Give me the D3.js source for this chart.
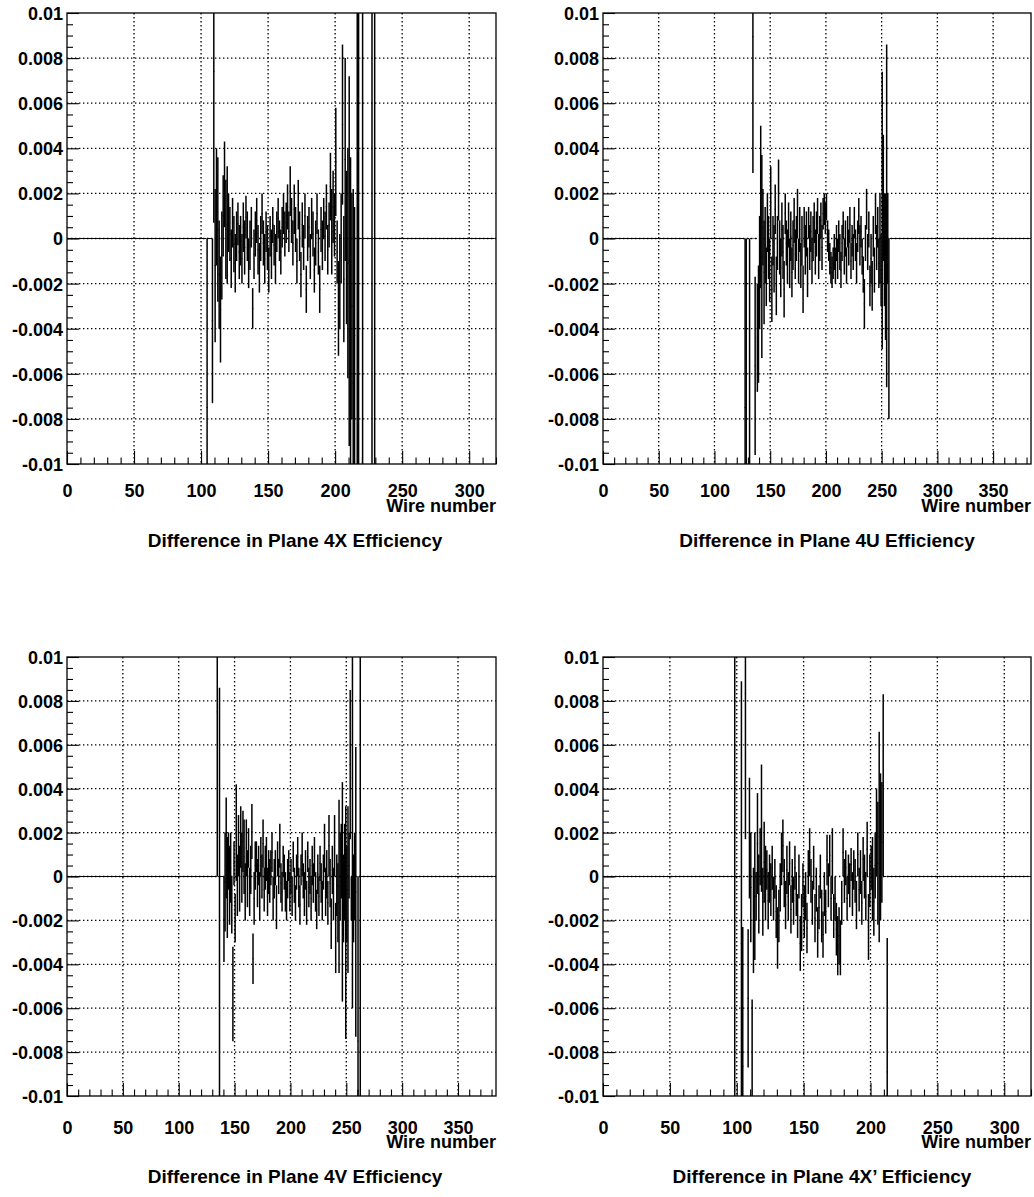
<!DOCTYPE html>
<html>
<head>
<meta charset="utf-8">
<script src="https://cdn.jsdelivr.net/npm/d3@7"></script>
<style>
  html, body { margin: 0; padding: 0; background: #fff; }
  svg { display: block; }
  text { font-family: "Liberation Sans", Arial, Helvetica, sans-serif; font-weight: bold; fill: #000; }
</style>
</head>
<body>
<svg id="chart" width="1034" height="1197"></svg>
<script>
// ---------------- DATA (error-bar extents per wire, in units of 1e-4) ----------------
const titles = [
  "Difference in Plane 4X Efficiency",
  "Difference in Plane 4U Efficiency",
  "Difference in Plane 4V Efficiency",
  "Difference in Plane 4X\u2019 Efficiency"
];
const xAxisTitle = "Wire number";
const wireCounts = [320, 384, 384, 320];
const firstWire = [104, 127, 134, 98];
const yTickLabels = ["-0.01","-0.008","-0.006","-0.004","-0.002","0","0.002","0.004","0.006","0.008","0.01"];

// Plane 4X : [low, high] of each wire's bar starting at wire 104
const bars4X = [
[-150,0],[0,0],[0,0],[0,0],[-73,0],[7,141],[-46,22],[-12,40],[-28,36],[-40,8],
[-55,-8],[-27,12],[-8,28],[5,43],[-18,26],[-20,32],[-6,20],[-10,14],[-22,4],[-4,18],
[-15,10],[-24,2],[-10,12],[-3,16],[-18,6],[-12,10],[-20,2],[-6,16],[-16,8],[0,19],
[-10,12],[-22,0],[-14,8],[-4,14],[-40,-22],[-18,4],[-8,12],[-2,18],[-16,6],[-24,-2],
[-10,10],[2,20],[-12,8],[-20,2],[-6,12],[-14,6],[-24,-4],[-8,10],[-18,4],[-2,14],
[-12,6],[-20,2],[-6,12],[0,18],[-10,8],[-16,4],[-4,14],[2,20],[-8,12],[-2,16],
[4,24],[-6,12],[10,32],[-2,18],[-12,8],[2,24],[-6,14],[-20,0],[4,26],[-10,12],
[-26,-6],[-4,16],[-14,6],[0,20],[-33,-12],[-10,10],[-4,14],[-18,2],[0,18],[-8,12],
[-24,-4],[-12,8],[2,20],[-16,4],[-33,-12],[-6,14],[-14,8],[0,18],[-10,12],[4,24],
[-16,6],[-4,16],[8,38],[-16,22],[-2,30],[-8,20],[10,58],[-20,8],[-52,-10],[-40,2],
[-20,20],[15,86],[-46,10],[-10,80],[-38,30],[-62,40],[-92,72],[-150,36],[-80,20],[-150,22],
[-100,14],[0,0],[-150,150],[-150,150],[0,0],[0,0],[-150,150],[0,0],[0,0],[0,0],
[0,0],[0,0],[0,0],[-150,150],[0,0],[-150,150]
];

// Plane 4U : starting at wire 127
const bars4U = [
[-150,0],[-150,0],[0,0],[0,0],[-150,0],[0,0],[0,0],[29,150],[0,0],[-96,-17],
[0,0],[-68,-20],[-64,-12],[-40,10],[-22,50],[-53,37],[-12,22],[-38,8],[-20,14],[-30,-4],
[-6,20],[-18,10],[-28,0],[0,32],[-37,-8],[-12,10],[-24,6],[2,24],[-34,-8],[-14,10],
[8,35],[-16,8],[-26,0],[-8,16],[-18,6],[-35,-10],[2,20],[-12,8],[-20,4],[-4,16],
[-22,0],[-10,12],[-26,-4],[-14,8],[-2,18],[-18,4],[-10,10],[0,22],[-20,0],[-6,14],
[-22,-2],[-12,10],[-33,-12],[-4,14],[-16,6],[-8,12],[-26,-4],[0,14],[-14,6],[-6,12],
[-20,0],[-10,10],[-2,16],[-16,4],[-8,12],[2,18],[-18,2],[-10,10],[0,16],[-14,6],
[4,18],[6,20],[2,16],[8,20],[-6,8],[-10,4],[-16,-2],[-20,-6],[-22,-8],[-18,-4],
[-14,2],[-20,-4],[-10,6],[-18,0],[-6,8],[-14,2],[-22,-6],[-10,6],[0,12],[-16,0],
[-8,8],[-20,-4],[-4,10],[-12,4],[-2,14],[-18,-2],[-8,6],[-14,2],[0,14],[-10,4],
[-20,-2],[-6,8],[2,18],[-12,6],[-4,10],[-16,0],[-24,-8],[-40,-18],[-10,6],[4,22],
[-14,2],[-4,12],[-30,-12],[-20,2],[-32,-10],[-8,10],[-24,-4],[2,20],[-14,6],[-4,14],
[-22,0],[-20,20],[-30,2],[-49,74],[-10,46],[-30,20],[-45,20],[-66,86],[-20,20],[-80,0]
];

// Plane 4V : starting at wire 134
const bars4V = [
[0,150],[0,0],[-150,86],[0,0],[0,0],[0,0],[-39,0],[-25,20],[-10,36],[-28,18],
[-6,20],[-22,14],[-12,20],[-26,0],[-75,-32],[-4,16],[-30,-8],[-2,42],[-18,10],[0,28],
[-16,14],[4,32],[-12,20],[2,30],[-8,26],[-20,6],[0,26],[-14,12],[4,22],[-18,4],
[-8,14],[8,33],[-49,-26],[-22,2],[-6,16],[2,16],[-14,8],[-4,14],[-20,2],[0,18],
[-10,10],[4,26],[-16,4],[-6,14],[-2,18],[-18,4],[-8,12],[-12,8],[-4,12],[2,20],
[-20,0],[-10,8],[-4,12],[-24,-4],[0,16],[-8,8],[4,24],[-12,6],[-16,2],[0,14],
[-6,10],[-16,2],[-20,-2],[-10,8],[-2,12],[-16,2],[-8,8],[-18,0],[2,16],[-12,4],
[-20,-4],[-6,10],[0,18],[-14,4],[-22,-4],[-4,10],[0,20],[-10,6],[-18,2],[-6,12],
[-22,-2],[2,16],[-14,4],[-8,8],[-20,0],[-4,14],[-12,6],[0,18],[-16,2],[-24,-6],
[-8,10],[-18,0],[-2,14],[-12,6],[-20,-2],[-6,10],[2,24],[-18,4],[-10,12],[-22,-2],
[0,28],[-14,8],[-33,-10],[-8,14],[-20,4],[0,28],[-44,-12],[-18,10],[-30,6],[-44,35],
[-20,20],[-10,24],[-57,43],[-30,10],[-20,24],[-74,32],[-30,14],[-44,32],[-10,20],[17,85],
[-20,0],[-60,150],[-30,10],[-20,20],[-73,59],[0,0],[-150,0],[0,0],[-150,150]
];

// Plane 4X' : starting at wire 98
const bars4Xp = [
[-150,150],[0,0],[0,0],[0,0],[0,0],[-150,89],[-150,-23],[0,0],[17,150],[0,0],
[-87,-24],[-10,45],[-30,20],[-150,-56],[-44,4],[-38,20],[-20,2],[-8,38],[-26,10],[-4,22],
[-7,51],[-27,4],[-12,25],[-20,14],[-6,12],[-24,2],[-12,10],[-18,6],[-6,14],[-20,0],
[-10,8],[-28,-4],[-42,-14],[-30,-6],[-16,6],[-4,20],[2,26],[-14,8],[-24,-2],[-8,14],
[-20,2],[-4,16],[-26,-4],[-12,8],[-22,0],[-6,14],[-18,2],[-28,-8],[-10,10],[-43,-18],
[-34,-8],[-14,6],[-28,-4],[-20,2],[-35,-12],[-8,12],[0,22],[-12,8],[-22,-2],[-6,14],
[-30,-8],[-16,4],[-37,-14],[-24,-4],[-10,10],[-30,-6],[-37,-16],[-18,2],[-26,-6],[-4,19],
[-14,6],[0,19],[-20,0],[-8,22],[-28,-8],[-20,0],[-36,-12],[-45,-18],[-40,-14],[-45,-20],
[-22,-2],[0,22],[-12,8],[-4,12],[-20,0],[-8,10],[-14,6],[-2,13],[-18,2],[-6,12],
[-12,8],[-24,-2],[0,20],[-16,4],[-8,12],[-22,-2],[-2,18],[-10,10],[-20,2],[0,25],
[-38,-8],[-14,10],[-6,14],[-20,18],[-27,4],[-10,20],[0,40],[-22,34],[-30,66],[-20,47],
[-12,43],[0,83],[0,0],[0,0],[-150,-28]
];

const seriesBars = [bars4X, bars4U, bars4V, bars4Xp];

// ---------------- LAYOUT ----------------
const layout = [
  { x0: 67,  x1: 496,  y0: 13,  y1: 464,  pad: 20, wy: 48, tx: 295, ty: 547 },
  { x0: 603, x1: 1031, y0: 13,  y1: 464,  pad: 20, wy: 48, tx: 827, ty: 547 },
  { x0: 67,  x1: 496,  y0: 657, y1: 1096, pad: 25, wy: 52, tx: 295, ty: 1183 },
  { x0: 603, x1: 1031, y0: 657, y1: 1096, pad: 25, wy: 52, tx: 822, ty: 1183 }
];
const FONT = 18;
const TITLE_FONT = 19;

const svg = d3.select("#chart");
svg.append("rect").attr("width", 1034).attr("height", 1197).attr("fill", "#fff");

seriesBars.forEach((bars, p) => {
  const L = layout[p];
  const n = wireCounts[p];
  const x = d3.scaleLinear().domain([0, n]).range([L.x0, L.x1]);
  const y = d3.scaleLinear().domain([-0.01, 0.01]).range([L.y1, L.y0]);
  const g = svg.append("g");

  const clipId = "clip" + p;
  g.append("clipPath").attr("id", clipId)
    .append("rect").attr("x", L.x0).attr("y", L.y0)
    .attr("width", L.x1 - L.x0).attr("height", L.y1 - L.y0);

  // grid
  const xMajor = d3.range(0, n + 1, 50);
  const xMinor = d3.range(0, n + 1, 10).filter(v => v % 50 !== 0);
  const yMajor = yTickLabels.map(Number);
  const yMinor = d3.range(-100, 101, 5).filter(v => v % 20 !== 0).map(v => v * 1e-4);

  const grid = g.append("g").attr("stroke", "#000").attr("stroke-width", 1.3)
    .attr("stroke-dasharray", "1.4,2.6").attr("fill", "none");
  xMajor.filter(v => v > 0 && v < n).forEach(v => {
    grid.append("line").attr("x1", x(v)).attr("x2", x(v)).attr("y1", L.y0).attr("y2", L.y1);
  });
  yMajor.filter(v => Math.abs(v) < 0.0099).forEach(v => {
    grid.append("line").attr("x1", L.x0).attr("x2", L.x1).attr("y1", y(v)).attr("y2", y(v));
  });

  // data: full per-wire table (zero outside the listed range)
  const table = d3.range(n).map(i => {
    const k = i - firstWire[p];
    const b = (k >= 0 && k < bars.length) ? bars[k] : [0, 0];
    return { wire: i, lo: b[0] * 1e-4, hi: b[1] * 1e-4 };
  });

  const data = g.append("g").attr("clip-path", "url(#" + clipId + ")");
  const zeroPath = d3.path();
  table.filter(d => d.lo === 0 && d.hi === 0).forEach(d => {
    zeroPath.moveTo(x(d.wire), y(0));
    zeroPath.lineTo(x(d.wire + 1), y(0));
  });
  data.append("path").attr("d", zeroPath.toString())
    .attr("stroke", "#000").attr("stroke-width", 1.1).attr("fill", "none")
    .attr("stroke-dasharray", "4,1.5,1.5,1.5");

  const nz = table.filter(d => !(d.lo === 0 && d.hi === 0));
  data.selectAll("line.err").data(nz).enter().append("line")
    .attr("class", "err")
    .attr("x1", d => x(d.wire + 0.5)).attr("x2", d => x(d.wire + 0.5))
    .attr("y1", d => y(Math.max(-0.011, d.lo))).attr("y2", d => y(Math.min(0.011, d.hi)))
    .attr("stroke", "#000").attr("stroke-width", 1.5);
  data.selectAll("line.mid").data(nz).enter().append("line")
    .attr("class", "mid")
    .attr("x1", d => x(d.wire)).attr("x2", d => x(d.wire + 1))
    .attr("y1", d => y((d.lo + d.hi) / 2)).attr("y2", d => y((d.lo + d.hi) / 2))
    .attr("stroke", "#000").attr("stroke-width", 1);

  // axes
  const axX = d3.axisBottom(x).tickValues(xMajor).tickSize(-13).tickPadding(L.pad)
    .tickFormat(d => String(d));
  const axXm = d3.axisBottom(x).tickValues(xMinor).tickSize(-6.5).tickFormat("");
  const axY = d3.axisLeft(y).tickValues(yMajor).tickSize(-12).tickPadding(4)
    .tickFormat((d, i) => yTickLabels[i]);
  const axYm = d3.axisLeft(y).tickValues(yMinor).tickSize(-6).tickFormat("");

  g.append("g").attr("transform", `translate(0,${L.y1})`).call(axX);
  g.append("g").attr("transform", `translate(0,${L.y1})`).call(axXm);
  const gy = g.append("g").attr("transform", `translate(${L.x0},0)`).call(axY);
  g.append("g").attr("transform", `translate(${L.x0},0)`).call(axYm);
  g.selectAll(".domain").remove();
  g.selectAll(".tick line").attr("stroke", "#000").attr("stroke-width", 1.1);
  g.selectAll(".tick text").attr("font-family", null).attr("font-size", FONT)
    .style("font-family", '"Liberation Sans", Arial, sans-serif').style("font-weight", "bold");
  gy.selectAll(".tick text").attr("dy", "0.36em");

  // frame
  g.append("rect").attr("x", L.x0).attr("y", L.y0)
    .attr("width", L.x1 - L.x0).attr("height", L.y1 - L.y0)
    .attr("fill", "none").attr("stroke", "#000").attr("stroke-width", 1.3);

  // axis title
  g.append("text").attr("x", L.x1).attr("y", L.y1 + L.wy)
    .attr("text-anchor", "end").attr("font-size", FONT).text(xAxisTitle);

  // panel title
  g.append("text").attr("x", L.tx).attr("y", L.ty)
    .attr("text-anchor", "middle").attr("font-size", TITLE_FONT).text(titles[p]);
});
</script>
</body>
</html>
